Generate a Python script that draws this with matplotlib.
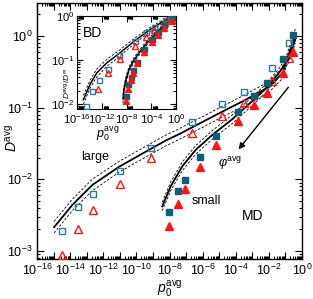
import numpy as np
import matplotlib
matplotlib.use('Agg')
import matplotlib.pyplot as plt
from matplotlib import ticker

plt.rcParams['font.family'] = ['Liberation Sans', 'DejaVu Sans']
plt.rcParams['mathtext.fontset'] = 'custom'
plt.rcParams['mathtext.rm'] = 'Liberation Sans'
plt.rcParams['mathtext.it'] = 'Liberation Sans:italic'
plt.rcParams['mathtext.bf'] = 'Liberation Sans:bold'

# ---- MD (main panel), values as log10 ----
md_large_x = [-14.5, -13.52, -12.59, -10.99, -9.1, -6.62, -4.81, -3.52, -1.80, -0.77]
md_large_sq = [-2.72, -2.39, -2.20, -1.885, -1.56, -1.205, -0.954, -0.786, -0.442, -0.093]
md_large_tri = [-3.06, -2.70, -2.43, -2.06, -1.71, -1.36, -1.117, -0.94, -0.63, -0.31]

md_small_x = [-8.04, -7.50, -7.05, -6.18, -5.17, -3.86, -2.89, -2.14, -1.13, -0.53]
md_small_sq = [-2.46, -2.17, -2.01, -1.69, -1.39, -1.066, -0.84, -0.66, -0.326, 0.01]
md_small_tri = [-2.65, -2.35, -2.14, -1.83, -1.52, -1.18, -0.964, -0.79, -0.51, -0.23]

# theory curves (solid) and their bounds (dashed)
md_fit_large_x = [-14.97, -13.87, -12.66, -11.04, -9.24, -8.23, -7.42, -5.01, -3.40, -1.99, -1.19, -0.78, -0.38]
md_fit_large = [-2.67, -2.36, -2.08, -1.825, -1.59, -1.46, -1.37, -1.08, -0.89, -0.71, -0.52, -0.24, 0.04]
md_fit_large_hi = [-2.59, -2.28, -2.00, -1.75, -1.515, -1.385, -1.295, -1.005, -0.815, -0.635, -0.445, -0.165, 0.115]
md_fit_large_lo = [-2.75, -2.44, -2.16, -1.90, -1.665, -1.535, -1.445, -1.155, -0.965, -0.785, -0.595, -0.315, -0.035]

md_fit_small_x = [-8.44, -7.93, -7.23, -6.42, -5.41, -4.2, -3.1, -2.3, -1.4, -0.8, -0.4]
md_fit_small = [-2.38, -2.10, -1.82, -1.59, -1.38, -1.16, -0.93, -0.76, -0.52, -0.31, -0.04]
md_fit_small_hi = [-2.32, -2.04, -1.76, -1.53, -1.32, -1.10, -0.87, -0.70, -0.46, -0.25, 0.02]
md_fit_small_lo = [-2.44, -2.16, -1.88, -1.65, -1.44, -1.22, -0.99, -0.82, -0.58, -0.37, -0.10]

# ---- BD (inset), D/D_inf ----
bd_large_x = [-14.55, -13.53, -12.45, -11.04, -9.17, -6.63, -4.85, -3.56, -1.78, -0.81]
bd_large_sq = [-2.04, -1.72, -1.46, -1.20, -0.90, -0.58, -0.37, -0.24, -0.10, -0.03]
bd_large_tri_x = [-12.66, -11.04, -9.05, -6.63, -4.85, -3.56, -1.78, -0.81]
bd_large_tri = [-1.66, -1.31, -0.99, -0.68, -0.47, -0.33, -0.17, -0.07]

bd_small_x = [-8.16, -7.68, -7.28, -6.95, -6.23, -5.18, -3.88, -2.91, -1.94, -0.65]
bd_small_sq = [-1.83, -1.56, -1.38, -1.24, -1.04, -0.76, -0.53, -0.37, -0.21, -0.05]
bd_small_tri = [-1.94, -1.67, -1.45, -1.29, -1.08, -0.83, -0.60, -0.44, -0.28, -0.12]

bd_fit_large_x = [-14.98, -13.9, -12.82, -11.2, -9.05, -6.63, -4.2, -2.27, -0.8]
bd_fit_large = [-1.91, -1.56, -1.30, -1.07, -0.84, -0.56, -0.31, -0.14, -0.03]
bd_fit_large_hi = [-1.81, -1.47, -1.21, -0.99, -0.77, -0.50, -0.26, -0.10, 0.01]
bd_fit_large_lo = [-2.01, -1.65, -1.39, -1.15, -0.91, -0.62, -0.36, -0.18, -0.07]

bd_fit_small_x = [-8.57, -8.41, -8.08, -7.6, -6.95, -5.82, -4.2, -2.59, -0.98, -0.33]
bd_fit_small = [-1.89, -1.68, -1.45, -1.22, -1.04, -0.81, -0.53, -0.30, -0.12, -0.03]
bd_fit_small_hi = [-1.80, -1.60, -1.38, -1.16, -0.98, -0.76, -0.48, -0.26, -0.08, 0.01]
bd_fit_small_lo = [-1.98, -1.76, -1.52, -1.28, -1.10, -0.86, -0.58, -0.34, -0.16, -0.07]

blue_open = '#2b7c9c'
blue_fill = '#0f5f7a'
red = '#ff1414'


def p10(v):
    return np.power(10.0, np.asarray(v))


def draw_fits(ax, x, mid, hi, lo, lw=1.3):
    ax.plot(p10(x), p10(mid), color='black', lw=lw, zorder=2)
    for band in (hi, lo):
        ax.plot(p10(x), p10(band), color='black', lw=0.6, ls=(0, (3, 2)), zorder=2)


def draw_points(ax, x_sq, sq, x_tri, tri, filled, ms):
    if filled:
        ax.plot(p10(x_sq), p10(sq), 's', ms=ms, color=blue_fill, mec=blue_fill, zorder=3)
        ax.plot(p10(x_tri), p10(tri), '^', ms=ms + 0.8, color=red, mec=red, zorder=3)
    else:
        ax.plot(p10(x_sq), p10(sq), 's', ms=ms, mfc='none', mec=blue_open, mew=1.0, zorder=3)
        ax.plot(p10(x_tri), p10(tri), '^', ms=ms + 0.8, mfc='none', mec=red, mew=1.0, zorder=3)


def even_decades(v, pos):
    e = int(round(np.log10(v)))
    return r'$10^{%d}$' % e if e % 2 == 0 else ''


def every_decade(v, pos):
    e = int(round(np.log10(v)))
    return r'$10^{%d}$' % e


fig = plt.figure(figsize=(3.13, 2.99), dpi=100)
ax = fig.add_axes([37 / 313, 40 / 299, 265 / 313, 255.7 / 299])

draw_fits(ax, md_fit_large_x, md_fit_large, md_fit_large_hi, md_fit_large_lo)
draw_fits(ax, md_fit_small_x, md_fit_small, md_fit_small_hi, md_fit_small_lo)
draw_points(ax, md_large_x, md_large_sq, md_large_x, md_large_tri, False, 4.4)
draw_points(ax, md_small_x, md_small_sq, md_small_x, md_small_tri, True, 4.4)

ax.set_xscale('log')
ax.set_yscale('log')
ax.set_xlim(1e-16, 1e0)
ax.set_ylim(7.7e-4, 2.86)
ax.xaxis.set_major_locator(ticker.FixedLocator(p10(np.arange(-16, 1))))
ax.xaxis.set_major_formatter(ticker.FuncFormatter(even_decades))
ax.xaxis.set_minor_locator(ticker.LogLocator(base=10, subs=np.arange(2, 10), numticks=100))
ax.xaxis.set_minor_formatter(ticker.NullFormatter())
ax.yaxis.set_major_locator(ticker.FixedLocator(p10(np.arange(-3, 1))))
ax.yaxis.set_major_formatter(ticker.FuncFormatter(every_decade))
ax.yaxis.set_minor_locator(ticker.LogLocator(base=10, subs=np.arange(2, 10), numticks=100))
ax.yaxis.set_minor_formatter(ticker.NullFormatter())
ax.tick_params(which='both', direction='in', top=True, right=True, labelsize=9, width=0.8)
ax.tick_params(which='major', length=5, pad=3)
ax.tick_params(which='minor', length=2.5)
for s in ax.spines.values():
    s.set_linewidth(1.0)

ax.set_xlabel(r'$p_0^{\mathrm{avg}}$', fontsize=10, labelpad=0)
ax.set_ylabel(r'$D^{\mathrm{avg}}$', fontsize=10, va='center')
ax.yaxis.set_label_coords(-0.094, 0.473)

ax.text(0.219, 0.40, 'large', transform=ax.transAxes, fontsize=9, ha='center', va='center')
ax.text(0.64, 0.227, 'small', transform=ax.transAxes, fontsize=9, ha='center', va='center')
ax.text(0.815, 0.168, 'MD', transform=ax.transAxes, fontsize=10, ha='center', va='center')
ax.text(0.73, 0.375, r'$\varphi^{\mathrm{avg}}$', transform=ax.transAxes, fontsize=9,
        ha='center', va='center')
ax.annotate('', xy=(0.754, 0.42), xytext=(0.955, 0.68), xycoords='axes fraction',
            textcoords='axes fraction',
            arrowprops=dict(arrowstyle='-|>', color='black', lw=1.0, mutation_scale=9))

# inset: BD
ins = fig.add_axes([77 / 313, 190 / 299, 99 / 313, 93 / 299])
draw_fits(ins, bd_fit_large_x, bd_fit_large, bd_fit_large_hi, bd_fit_large_lo, lw=1.1)
draw_fits(ins, bd_fit_small_x, bd_fit_small, bd_fit_small_hi, bd_fit_small_lo, lw=1.1)
draw_points(ins, bd_large_x, bd_large_sq, bd_large_tri_x, bd_large_tri, False, 3.6)
draw_points(ins, bd_small_x, bd_small_sq, bd_small_x, bd_small_tri, True, 3.6)
ins.set_xscale('log')
ins.set_yscale('log')
ins.set_xlim(1e-16, 1e0)
ins.set_ylim(7.6e-3, 1.0)
ins.xaxis.set_major_locator(ticker.FixedLocator(p10(np.arange(-16, 1, 4))))
ins.xaxis.set_major_formatter(ticker.FuncFormatter(every_decade))
ins.xaxis.set_minor_locator(ticker.FixedLocator(
    np.concatenate([k * p10(np.arange(-16, 0, 4)) for k in range(2, 10)])))
ins.xaxis.set_minor_formatter(ticker.NullFormatter())
ins.yaxis.set_major_locator(ticker.FixedLocator(p10(np.arange(-2, 1))))
ins.yaxis.set_major_formatter(ticker.FuncFormatter(every_decade))
ins.yaxis.set_minor_locator(ticker.LogLocator(base=10, subs=np.arange(2, 10), numticks=100))
ins.yaxis.set_minor_formatter(ticker.NullFormatter())
ins.tick_params(which='both', direction='in', top=True, right=True, labelsize=8, width=0.8)
ins.tick_params(which='major', length=4, pad=2)
ins.tick_params(which='minor', length=2)
ins.set_xlabel(r'$p_0^{\mathrm{avg}}$', fontsize=9, va='center')
ins.xaxis.set_label_coords(0.31, -0.27)
ins.set_ylabel(r'$D^{\mathrm{avg}}/D^{\infty}$', fontsize=6, va='center')
ins.yaxis.set_label_coords(-0.10, 0.27)
ins.text(0.16, 0.817, 'BD', transform=ins.transAxes, fontsize=10, ha='center', va='center')

fig.savefig('out.png', dpi=100)
